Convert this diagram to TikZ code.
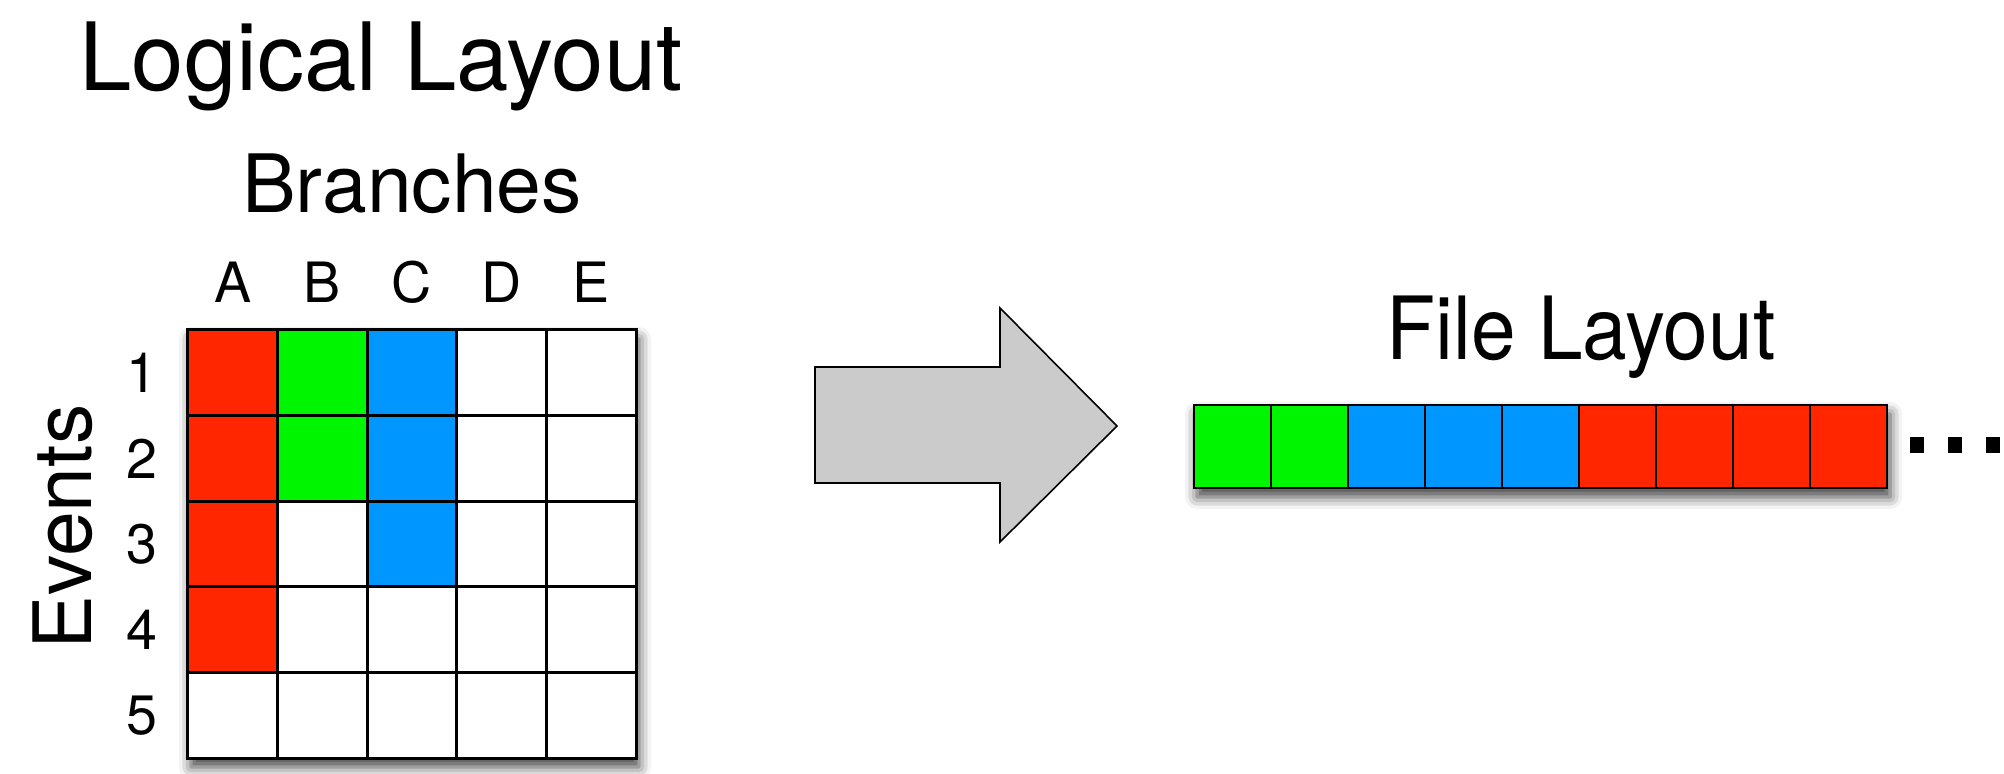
\documentclass[tikz,border=0pt]{standalone}
\usepackage{fontspec}
\setmainfont{TeX Gyre Heros}
\newfontfamily\strettofont[FakeStretch=0.92]{TeX Gyre Heros}
\usetikzlibrary{shadows.blur}
\definecolor{rosso}{RGB}{255,38,0}
\definecolor{verde}{RGB}{0,245,0}
\definecolor{blu}{RGB}{0,150,255}
\definecolor{grigio}{RGB}{203,203,203}
\tikzset{
  titolo/.style={inner sep=0pt,anchor=base,font=\fontsize{26.8}{30}\selectfont},
  titolino/.style={inner sep=0pt,font=\fontsize{22.9}{26}\selectfont},
  etichetta/.style={inner sep=0pt,font=\fontsize{15.8}{18}\selectfont},
  cella/.style={draw,line width=0.85pt,inner sep=0pt,minimum width=0.896cm,minimum height=0.856cm},
  ombra/.style={fill=white,blur shadow={shadow xshift=0.03cm,shadow yshift=-0.09cm,shadow blur radius=0.12cm,shadow opacity=75}}
}
\begin{document}
\begin{tikzpicture}[x=0.01cm,y=-0.01cm]
\useasboundingbox (0,0) rectangle (2004,774);
        %titoli
            \node[titolo](logico) at (381,91){Logical Layout};
            \node[titolino,anchor=base](rami) at (412,213){Branches};
            \node[titolino,rotate=90](eventi) at (63,527){Events};
            \node[titolo,font=\strettofont\fontsize{24.8}{30}\selectfont](file) at (1581,360){File Layout};
        %ombra griglia
            \path[ombra](188,330) rectangle (636,758);
        %griglia
            \foreach \riga/\colori in {1/{rosso,verde,blu,white,white},2/{rosso,verde,blu,white,white},3/{rosso,white,blu,white,white},4/{rosso,white,white,white,white},5/{white,white,white,white,white}}
              \foreach \col [count=\c] in \colori
                \node[cella,fill=\col](g\riga\c) at ({188+89.6*(\c-0.5)},{330+85.6*(\riga-0.5)}){};
        %lettere e numeri
            \foreach \l [count=\c] in {A,B,C,D,E}
              \node[etichetta](col\l) at ({188+89.6*(\c-0.5)},282){\l};
            \foreach \r in {1,...,5}
              \node[etichetta](riga\r) at (142,{330+85.6*(\r-0.5)}){\r};
        %freccia
            \draw[fill=grigio,line width=0.45pt](815,367)--(1000,367)--(1000,308)--(1117,426)--(1000,542)--(1000,483)--(815,483)--cycle;
        %ombra file
            \path[ombra](1194,405) rectangle (1887,488);
        %file
            \foreach \col [count=\i] in {verde,verde,blu,blu,blu,rosso,rosso,rosso,rosso}
              \node[cella,line width=0.75pt,fill=\col,minimum width=0.77cm,minimum height=0.83cm](f\i) at ({1194+77*(\i-0.5)},446.5){};
        %puntini
            \foreach \i in {0,1,2}
              \fill ({1910+38*\i},437) rectangle +(14,16);
        \end{tikzpicture}
\end{document}
